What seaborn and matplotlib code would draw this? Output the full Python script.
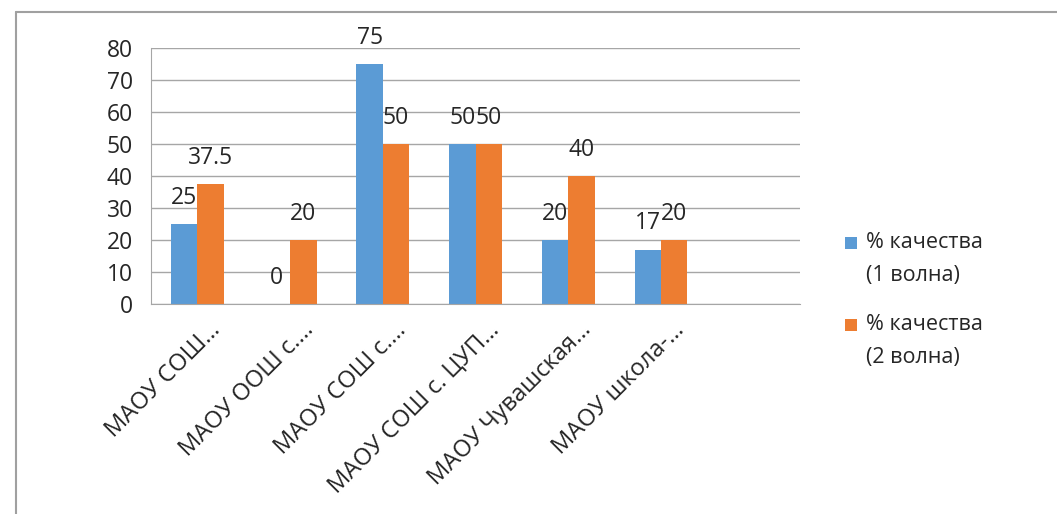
import numpy as np
import pandas as pd
import matplotlib
matplotlib.use("Agg")
import matplotlib.pyplot as plt
from matplotlib.lines import Line2D
from matplotlib.patches import Rectangle
import seaborn as sns

# data
schools = ["МАОУ СОШ…", "МАОУ ООШ с.…", "МАОУ СОШ с.…", "МАОУ СОШ с. ЦУП…",
           "МАОУ Чувашская…", "МАОУ школа-…", ""]
wave1 = [25, 0, 75, 50, 20, 17]
wave2 = [37.5, 20, 50, 50, 40, 20]
series = ["% качества\n(1 волна)", "% качества\n(2 волна)"]
colors = ["#5B9BD5", "#ED7D31"]

df = pd.DataFrame({
    "school": schools[:6] * 2,
    "value": wave1 + wave2,
    "series": [series[0]] * 6 + [series[1]] * 6,
})

sns.set_style("white")
plt.rcParams["font.family"] = ["Open Sans", "DejaVu Sans"]

fig = plt.figure(figsize=(10.57, 5.14), dpi=100)
ax = fig.add_axes([0.1429, 0.4086, 0.757 - 0.1429, 0.9066 - 0.4086])

sns.barplot(data=df, x="school", y="value", hue="series", order=schools,
            hue_order=series, palette=colors, width=0.57, saturation=1,
            linewidth=0, ax=ax, legend=False)

ax.set_xlim(-0.5, 6.5)
ax.set_ylim(0, 80)
ax.set_yticks(np.arange(0, 81, 10))
ax.yaxis.grid(True, color="#A6A6A6", linewidth=1)
ax.set_axisbelow(True)
for s in ["top", "right"]:
    ax.spines[s].set_visible(False)
ax.spines["left"].set_color("#A6A6A6")
ax.spines["bottom"].set_color("#A6A6A6")
ax.set_xlabel("")
ax.set_ylabel("")

ax.tick_params(axis="y", length=7, color="#A6A6A6", labelsize=16.5, pad=6)
ax.set_xticks(np.arange(len(schools)) + 0.12)
ax.set_xticklabels(schools, rotation=45, ha="right", rotation_mode="anchor", fontsize=17)
ax.tick_params(axis="x", length=0, pad=10)
ax.set_xticks(np.arange(-0.5, 7, 1), minor=True)
ax.tick_params(axis="x", which="minor", length=7, color="#A6A6A6")

# value labels
for cont in ax.containers:
    for bar in cont:
        h = bar.get_height()
        if np.isnan(h):
            continue
        ax.annotate(f"{h:g}", (bar.get_x() + bar.get_width() / 2, h),
                    xytext=(0, 19), textcoords="offset points",
                    ha="center", va="center", fontsize=16.5)

# legend, drawn by hand so the square sits on the first line
W, H = 1057, 514
for i, (lab, c) in enumerate(zip(series, colors)):
    ytop = 243 + 82 * i
    fig.add_artist(Rectangle((845 / W, 1 - (ytop + 6) / H), 12 / W, 12 / H,
                             transform=fig.transFigure, color=c, lw=0))
    for j, line in enumerate(lab.split("\n")):
        fig.text(866 / W, 1 - (ytop + 32 * j) / H, line, fontsize=15.5,
                 ha="left", va="center")

# document frame
fig.add_artist(Line2D([16 / W, 1], [1 - 12 / H] * 2, color="#A0A0A0", lw=1.5))
fig.add_artist(Line2D([16 / W] * 2, [0, 1 - 12 / H], color="#A0A0A0", lw=1.5))

fig.savefig("out.png", dpi=100)
